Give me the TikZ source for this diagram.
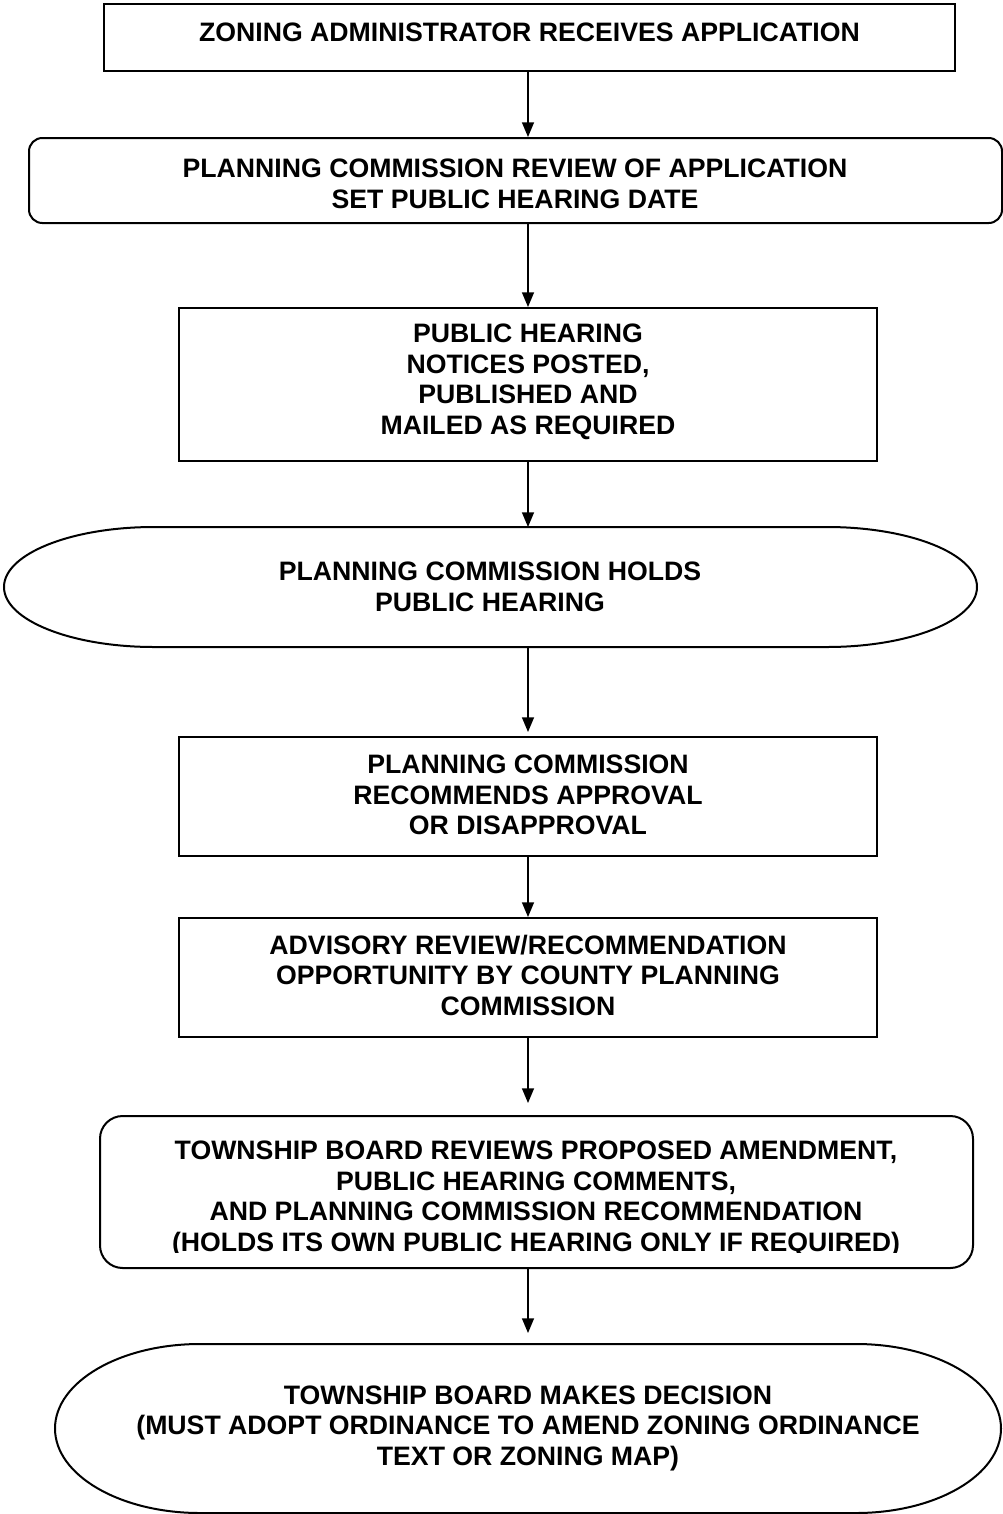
\documentclass[tikz,border=0pt]{standalone}
\usepackage{fontspec}
\setmainfont{Liberation Sans}
\usetikzlibrary{arrows.meta,fit}
\begin{document}
\begin{tikzpicture}[x=0.75pt,y=0.75pt,
  shapeline/.style={draw=black,line width=1.5pt},
  boxnode/.style={shapeline,inner sep=0pt},
  txt/.style={inner sep=0pt,align=center,font=\fontsize{20pt}{22.9pt}\selectfont\bfseries},
  arr/.style={draw=black,line width=1pt,-{Triangle[length=11pt,width=9pt]}}]
\useasboundingbox (0,0) rectangle (1003,-1514);
\fill[white] (0,0) rectangle (1003,-1514);
\coordinate (ax) at (528,0);
% shapes
\node[boxnode,fit={(104,-4) (955,-71)}] (b1) {};
\node[boxnode,rounded corners=10pt,fit={(29,-138) (1002,-223)}] (b2) {};
\node[boxnode,fit={(179,-308) (877,-461)}] (b3) {};
\node[boxnode,fit={(179,-737) (877,-856)}] (b4) {};
\node[boxnode,fit={(179,-918) (877,-1037)}] (b5) {};
\node[boxnode,rounded corners=17pt,fit={(100,-1116) (973,-1268)}] (b6) {};
% stadium 1
\draw[shapeline] (154,-527) -- (827,-527) arc[start angle=90,end angle=-90,x radius=150,y radius=60]
  -- (154,-647) arc[start angle=270,end angle=90,x radius=150,y radius=60] -- cycle;
\coordinate (e1t) at (528,-527);
\coordinate (e1b) at (528,-647);
% stadium 2
\draw[shapeline] (200,-1344) -- (856,-1344) arc[start angle=90,end angle=-90,x radius=145,y radius=84.5]
  -- (200,-1513) arc[start angle=270,end angle=90,x radius=145,y radius=84.5] -- cycle;
\coordinate (e2t) at (528,-1333);
\coordinate (b4t) at (528,-732);
\coordinate (b6t) at (528,-1103);
% texts
\node[txt] (t1) at (529.5,-32) {ZONING ADMINISTRATOR RECEIVES APPLICATION};
\node[txt] (t2) at (515,-184) {PLANNING COMMISSION REVIEW OF APPLICATION\\SET PUBLIC HEARING DATE};
\node[txt] (t3) at (528,-382) {PUBLIC HEARING\\NOTICES POSTED,\\PUBLISHED AND\\MAILED AS REQUIRED};
\node[txt] (te1) at (490,-587) {PLANNING COMMISSION HOLDS\\PUBLIC HEARING};
\node[txt] (t4) at (528,-795) {PLANNING COMMISSION\\RECOMMENDS APPROVAL\\OR DISAPPROVAL};
\node[txt] (t5) at (528,-975) {ADVISORY REVIEW/RECOMMENDATION\\OPPORTUNITY BY COUNTY PLANNING\\COMMISSION};
\begin{scope}
\clip (100,-1116) rectangle (973,-1252.5);
\node[txt] (t6) at (536,-1199) {TOWNSHIP BOARD REVIEWS PROPOSED AMENDMENT,\\PUBLIC HEARING COMMENTS,\\AND PLANNING COMMISSION RECOMMENDATION\\(HOLDS ITS OWN PUBLIC HEARING ONLY IF REQUIRED)};
\end{scope}
\node[txt] (te2) at (528,-1428) {TOWNSHIP BOARD MAKES DECISION\\(MUST ADOPT ORDINANCE TO AMEND ZONING ORDINANCE\\TEXT OR ZONING MAP)};
% connectors
\draw[arr] (b1.south -| ax) -- (b2.north -| ax);
\draw[arr] (b2.south -| ax) -- (b3.north -| ax);
\draw[arr] (b3.south -| ax) -- (e1t);
\draw[arr] (e1b) -- (b4t);
\draw[arr] (b4.south -| ax) -- (b5.north -| ax);
\draw[arr] (b5.south -| ax) -- (b6t);
\draw[arr] (b6.south -| ax) -- (e2t);
\end{tikzpicture}
\end{document}
